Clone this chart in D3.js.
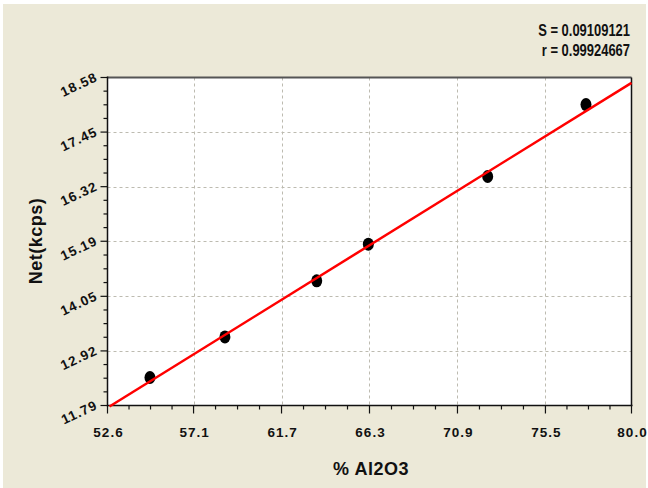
<!DOCTYPE html>
<html>
<head>
<meta charset="utf-8">
<script src="https://cdn.jsdelivr.net/npm/d3@7"></script>
<style>
  body { margin: 0; background: #fff; }
  svg { display: block; }
  .tick-label { font-family: "Liberation Sans", Arial, sans-serif; font-weight: bold; font-size: 13.5px; letter-spacing: 1px; fill: #111; }
  .axis-title { font-family: "Liberation Sans", Arial, sans-serif; font-weight: bold; font-size: 18px; letter-spacing: 0.5px; fill: #111; }
  .stat { font-family: "Liberation Sans", Arial, sans-serif; font-weight: bold; font-size: 16px; fill: #111; }
</style>
</head>
<body>
<svg id="chart" width="648" height="488"></svg>
<script>
// measured standards (% Al2O3 vs net intensity)
var concentration = [54.82, 58.74, 63.54, 66.24, 72.48, 77.62];
var intensity = [12.37, 13.21, 14.37, 15.13, 16.53, 18.02];

// calibration line end points
var fitX = [52.6, 80.0];
var fitY = [11.78, 18.47];

var xTicks = [52.6, 57.1, 61.7, 66.3, 70.9, 75.5, 80.0];
var yTicks = [11.79, 12.92, 14.05, 15.19, 16.32, 17.45, 18.58];

var stats = ["S = 0.09109121", "r = 0.99924667"];

var svg = d3.select("#chart");
var pLeft = 107.5, pRight = 631.5, pTop = 77.5, pBottom = 405.5;

svg.append("rect")
    .attr("x", 3).attr("y", 4)
    .attr("width", 643).attr("height", 484)
    .attr("fill", "#ece9d8");

var x = d3.scaleLinear().domain([52.6, 80.0]).range([pLeft, pRight]);
var y = d3.scaleLinear().domain([11.79, 18.58]).range([pBottom, pTop]);

// plot background
svg.append("rect")
    .attr("x", pLeft).attr("y", pTop)
    .attr("width", pRight - pLeft).attr("height", pBottom - pTop)
    .attr("fill", "#fff");

// grid
svg.append("g").selectAll("line")
    .data(xTicks.slice(1, -1))
    .enter().append("line")
    .attr("x1", function (d) { return Math.round(x(d)) + 0.5; })
    .attr("x2", function (d) { return Math.round(x(d)) + 0.5; })
    .attr("y1", pTop).attr("y2", pBottom)
    .attr("stroke", "#bdbbb0")
    .attr("stroke-dasharray", "3,3");

svg.append("g").selectAll("line")
    .data(yTicks.slice(1, -1))
    .enter().append("line")
    .attr("y1", function (d) { return Math.round(y(d)) + 0.5; })
    .attr("y2", function (d) { return Math.round(y(d)) + 0.5; })
    .attr("x1", pLeft).attr("x2", pRight)
    .attr("stroke", "#bdbbb0")
    .attr("stroke-dasharray", "3,3");

// minor ticks: 4 per major step
var xMinor = [], yMinor = [];
for (var i = 0; i < 6; i++) {
    for (var k = 1; k < 4; k++) {
        xMinor.push(x.invert(x(xTicks[i]) + (x(xTicks[i + 1]) - x(xTicks[i])) * k / 4));
        yMinor.push(y.invert(y(yTicks[i]) + (y(yTicks[i + 1]) - y(yTicks[i])) * k / 4));
    }
}

var xAxis = svg.append("g")
    .attr("transform", "translate(0," + pBottom + ")");
xAxis.selectAll(".minor")
    .data(xMinor).enter().append("line")
    .attr("x1", function (d) { return x(d); })
    .attr("x2", function (d) { return x(d); })
    .attr("y1", 0).attr("y2", 4)
    .attr("stroke", "#111").attr("stroke-width", 1.2);
xAxis.selectAll(".major")
    .data(xTicks).enter().append("line")
    .attr("x1", function (d) { return x(d); })
    .attr("x2", function (d) { return x(d); })
    .attr("y1", 0).attr("y2", 8)
    .attr("stroke", "#111").attr("stroke-width", 1.2);
xAxis.selectAll("text")
    .data(xTicks).enter().append("text")
    .attr("class", "tick-label")
    .attr("x", function (d) { return x(d) + 1; })
    .attr("y", 31)
    .attr("text-anchor", "middle")
    .text(function (d) { return d.toFixed(1); });

var yAxis = svg.append("g")
    .attr("transform", "translate(" + pLeft + ",0)");
yAxis.selectAll(".minor")
    .data(yMinor).enter().append("line")
    .attr("y1", function (d) { return y(d); })
    .attr("y2", function (d) { return y(d); })
    .attr("x1", 0).attr("x2", -4)
    .attr("stroke", "#111").attr("stroke-width", 1.2);
yAxis.selectAll(".major")
    .data(yTicks).enter().append("line")
    .attr("y1", function (d) { return y(d); })
    .attr("y2", function (d) { return y(d); })
    .attr("x1", 0).attr("x2", -7)
    .attr("stroke", "#111").attr("stroke-width", 1.2);
yAxis.selectAll("text")
    .data(yTicks).enter().append("text")
    .attr("class", "tick-label")
    .attr("text-anchor", "end")
    .attr("transform", function (d) {
        return "translate(-9," + (y(d) + 3) + ") rotate(-25)";
    })
    .text(function (d) { return d.toFixed(2); });

// frame
svg.append("line").attr("x1", pLeft).attr("x2", pRight).attr("y1", pTop).attr("y2", pTop)
    .attr("stroke", "#555").attr("stroke-width", 2);
svg.append("line").attr("x1", pRight).attr("x2", pRight).attr("y1", pTop).attr("y2", pBottom)
    .attr("stroke", "#111").attr("stroke-width", 1.5);
svg.append("line").attr("x1", pLeft).attr("x2", pLeft).attr("y1", pTop - 1).attr("y2", pBottom + 1)
    .attr("stroke", "#111").attr("stroke-width", 1.5);
svg.append("line").attr("x1", pLeft).attr("x2", pRight + 1).attr("y1", pBottom).attr("y2", pBottom)
    .attr("stroke", "#111").attr("stroke-width", 1.5);

// points
svg.append("g").selectAll("ellipse")
    .data(concentration).enter().append("ellipse")
    .attr("cx", function (d) { return x(d); })
    .attr("cy", function (d, i) { return y(intensity[i]); })
    .attr("rx", 5.5).attr("ry", 6.5)
    .attr("fill", "#000");

// fit line
svg.append("line")
    .attr("x1", x(fitX[0]) + 2).attr("y1", y(fitY[0]) + 0.5)
    .attr("x2", x(fitX[1])).attr("y2", y(fitY[1]))
    .attr("stroke", "#ff0000")
    .attr("stroke-width", 2.5);

// stats, condensed like the original narrow face
svg.selectAll(".stat")
    .data(stats).enter().append("text")
    .attr("class", "stat")
    .attr("transform", function (d, i) {
        return "translate(630," + (36 + i * 20) + ") scale(0.81,1)";
    })
    .attr("text-anchor", "end")
    .text(function (d) { return d; });

// axis titles
svg.append("text")
    .attr("class", "axis-title")
    .attr("x", 371).attr("y", 475)
    .attr("text-anchor", "middle")
    .text("% Al2O3");

svg.append("text")
    .attr("class", "axis-title")
    .attr("transform", "translate(42,241) rotate(-90)")
    .attr("text-anchor", "middle")
    .text("Net(kcps)");
</script>
</body>
</html>
